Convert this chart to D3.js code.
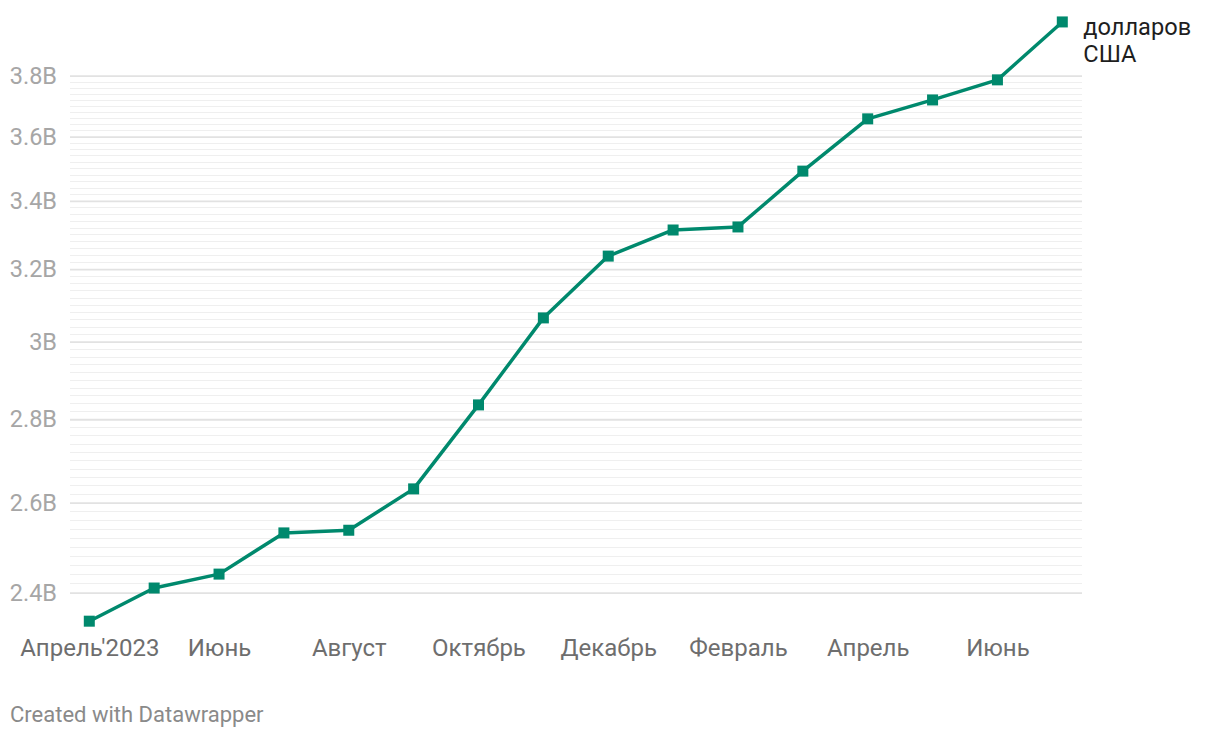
<!DOCTYPE html>
<html>
<head>
<meta charset="utf-8">
<script src="https://cdn.jsdelivr.net/npm/d3@7"></script>
<style>
  html, body { margin: 0; padding: 0; background: #fff; }
  svg { display: block; font-family: Roboto, "Noto Sans", sans-serif; }
</style>
</head>
<body>
<svg id="chart" width="1220" height="738"></svg>
<script>
// ---- data ----
const months = ["2023-04","2023-05","2023-06","2023-07","2023-08","2023-09","2023-10","2023-11",
                "2023-12","2024-01","2024-02","2024-03","2024-04","2024-05","2024-06","2024-07"];
const values = [2.340e9, 2.410e9, 2.440e9, 2.531e9, 2.537e9, 2.632e9, 2.836e9, 3.064e9,
                3.237e9, 3.313e9, 3.322e9, 3.491e9, 3.657e9, 3.719e9, 3.786e9, 3.986e9];
const xTickMonths = ["2023-04","2023-06","2023-08","2023-10","2023-12","2024-02","2024-04","2024-06"];
const xTickLabels = ["Апрель'2023","Июнь","Август","Октябрь","Декабрь","Февраль","Апрель","Июнь"];
const yTicks = [2.4e9, 2.6e9, 2.8e9, 3.0e9, 3.2e9, 3.4e9, 3.6e9, 3.8e9];
const yTickLabels = ["2.4B","2.6B","2.8B","3B","3.2B","3.4B","3.6B","3.8B"];
const seriesLabel = ["долларов", "США"];
const creditText = "Created with Datawrapper";

// ---- layout ----
const svg = d3.select("#chart");
const gridLeft = 70, gridRight = 1082;
const color = "#00896d";

const x = d3.scalePoint().domain(months).range([89.3, 1062.3]);
const y = d3.scaleLog().domain([2.4e9, 3.8e9]).range([592.7, 75.7]);

// minor grid every 0.02B
const minor = d3.range(120, 191).map(k => k * 0.02e9)
  .filter(v => !yTicks.some(t => Math.abs(t - v) < 1e6));

const grid = svg.append("g");
grid.selectAll("line.minor").data(minor).join("line")
  .attr("class", "minor")
  .attr("x1", gridLeft).attr("x2", gridRight)
  .attr("y1", d => Math.round(y(d)) + 0.5).attr("y2", d => Math.round(y(d)) + 0.5)
  .attr("stroke", "#efefef").attr("stroke-width", 1.2);

// y axis (major grid + labels)
const yAxis = d3.axisLeft(y).tickValues(yTicks)
  .tickFormat((d, i) => yTickLabels[i])
  .tickSize(-(gridRight - gridLeft)).tickPadding(13);
const yg = svg.append("g").attr("transform", `translate(${gridLeft},0)`).call(yAxis);
yg.select(".domain").remove();
yg.selectAll(".tick line").attr("stroke", "#e2e2e2").attr("stroke-width", 1.8);
yg.selectAll(".tick text").attr("fill", "#a6a6a6").attr("font-size", 23.5)
  .attr("font-family", "Roboto, sans-serif");

// x axis
const xAxis = d3.axisBottom(x).tickValues(xTickMonths)
  .tickFormat((d, i) => xTickLabels[i]).tickSize(0).tickPadding(0);
const xg = svg.append("g").attr("transform", "translate(0,639)").call(xAxis);
xg.select(".domain").remove();
xg.selectAll(".tick text").attr("fill", "#6e6e6e").attr("font-size", 24)
  .attr("font-family", "Roboto, sans-serif").attr("dy", "0.71em");

// line
const line = d3.line().x((d, i) => x(months[i])).y(d => y(d));
svg.append("path").datum(values)
  .attr("d", line).attr("fill", "none")
  .attr("stroke", color).attr("stroke-width", 3.5)
  .attr("stroke-linejoin", "round");

// markers
const ms = 11;
svg.selectAll("rect.pt").data(values).join("rect")
  .attr("class", "pt")
  .attr("x", (d, i) => x(months[i]) - ms / 2)
  .attr("y", d => y(d) - ms / 2)
  .attr("width", ms).attr("height", ms)
  .attr("fill", color);

// series label
const last = values.length - 1;
const lbl = svg.append("text")
  .attr("x", x(months[last]) + 21)
  .attr("y", y(values[last]) + 13)
  .attr("fill", "#1e1e1e").attr("font-size", 23.6)
  .attr("font-family", "Roboto, sans-serif");
seriesLabel.forEach((t, i) => {
  lbl.append("tspan").attr("x", x(months[last]) + 21).attr("dy", i === 0 ? 0 : 27.5).text(t);
});

// credit
svg.append("text").attr("x", 10).attr("y", 722)
  .attr("fill", "#8a8a8a").attr("font-size", 22)
  .attr("font-family", "Roboto, sans-serif")
  .text(creditText);
</script>
</body>
</html>
